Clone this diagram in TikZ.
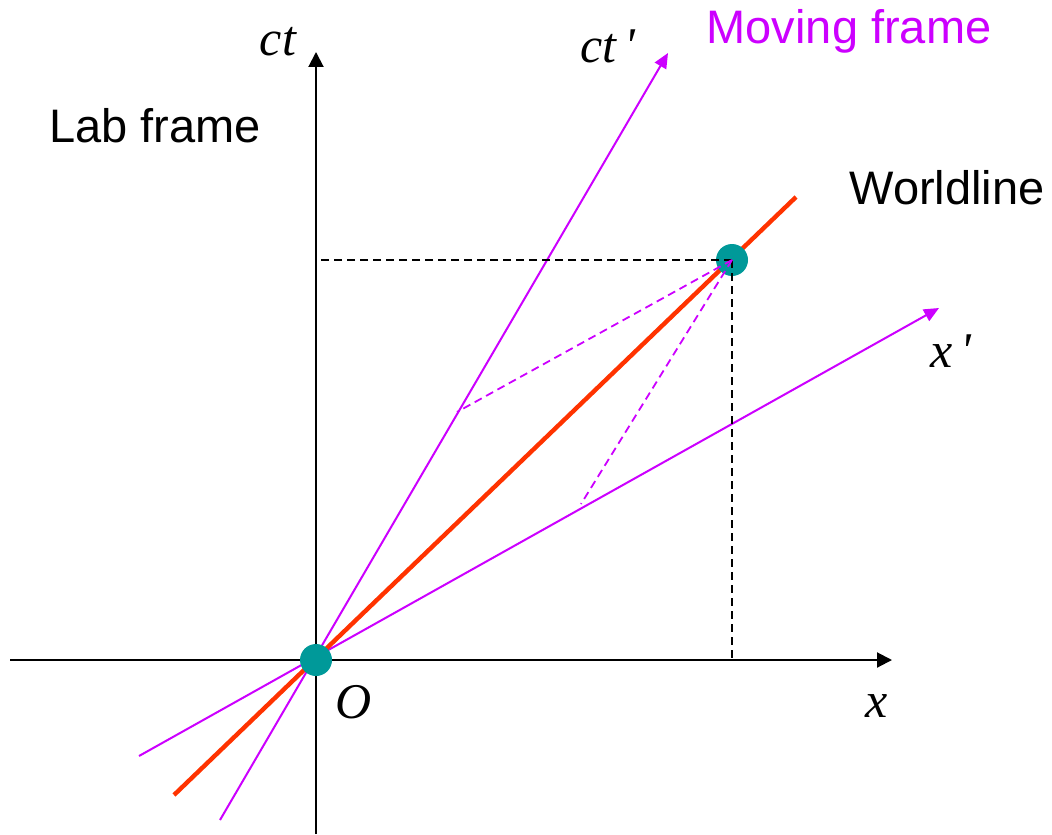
\documentclass[tikz,border=0pt]{standalone}
\usepackage{fontspec}
\setmainfont{Liberation Serif}
\setsansfont{Liberation Sans}
\usepackage{xcolor}
\usetikzlibrary{arrows.meta}
\definecolor{frameMagenta}{HTML}{CC00FF}
\definecolor{worldRed}{HTML}{FF3300}
\definecolor{eventTeal}{HTML}{009999}
\tikzset{
  labaxis/.style={draw=black, line width=1pt, -{Triangle[length=7.5pt,width=7.5pt]}},
  movaxis/.style={draw=frameMagenta, line width=1pt, -{Triangle[length=7.5pt,width=6.5pt]}},
  guide/.style={line width=0.9pt, dash pattern=on 4pt off 2.5pt},
  eventdot/.style={circle, fill=eventTeal, minimum size=16pt, inner sep=0pt},
  sanslabel/.style={font=\sffamily\fontsize{23.5}{28}\selectfont, anchor=base},
  mathlabel/.style={font=\fontsize{25}{30}\selectfont\itshape, anchor=base}
}
\begin{document}
\begin{tikzpicture}[x=0.5pt,y=-0.5pt, every node/.style={inner sep=0pt}]
    \useasboundingbox (0,0) rectangle (1052,834);
    % axes of the lab frame
    \coordinate (xL) at (10,660);
    \coordinate (xR) at (892,660);
    \coordinate (tB) at (316,834);
    \coordinate (tT) at (316,52);
    \draw[labaxis] (xL) -- (xR);
    \draw[labaxis] (tB) -- (tT);
    % axes of the moving frame
    \coordinate (cpB) at (220,820);
    \coordinate (cpT) at (668,53);
    \coordinate (xpB) at (139,756);
    \coordinate (xpT) at (939,308);
    \draw[movaxis] (cpB) -- (cpT);
    \draw[movaxis] (xpB) -- (xpT);
    % worldline
    \coordinate (wB) at (174,795);
    \coordinate (wT) at (796,197);
    \draw[worldRed, line width=2.2pt] (wB) -- (wT);
    % events
    \node[eventdot] (O) at (316,660) {};
    \node[eventdot] (E) at (732,260) {};
    % projections
    \coordinate (tE) at (316,260);
    \coordinate (xE) at (732,660);
    \coordinate (tpE) at (457,412);
    \coordinate (xpE) at (581,504);
    \draw[guide, black] (E.center) -- (tE);
    \draw[guide, black] (E.center) -- (xE);
    \draw[guide, frameMagenta] (E.center) -- (tpE);
    \draw[guide, frameMagenta] (E.center) -- (xpE);
    % labels
    \node[mathlabel] (ctLabel) at (278,56) {ct};
    \node[mathlabel] (ctpLabel) at (608,63) {ct\,\textquotesingle};
    \node[mathlabel] (xLabel) at (877,717) {x};
    \node[mathlabel] (xpLabel) at (951,367) {x\,\textquotesingle};
    \node[mathlabel] (oLabel) at (354,718) {O};
    \node[sanslabel] (labLabel) at (155,143) {Lab frame};
    \node[sanslabel, text=frameMagenta] (movLabel) at (849,44) {Moving frame};
    \node[sanslabel] (wlLabel) at (947,205) {Worldline};
\end{tikzpicture}
\end{document}
